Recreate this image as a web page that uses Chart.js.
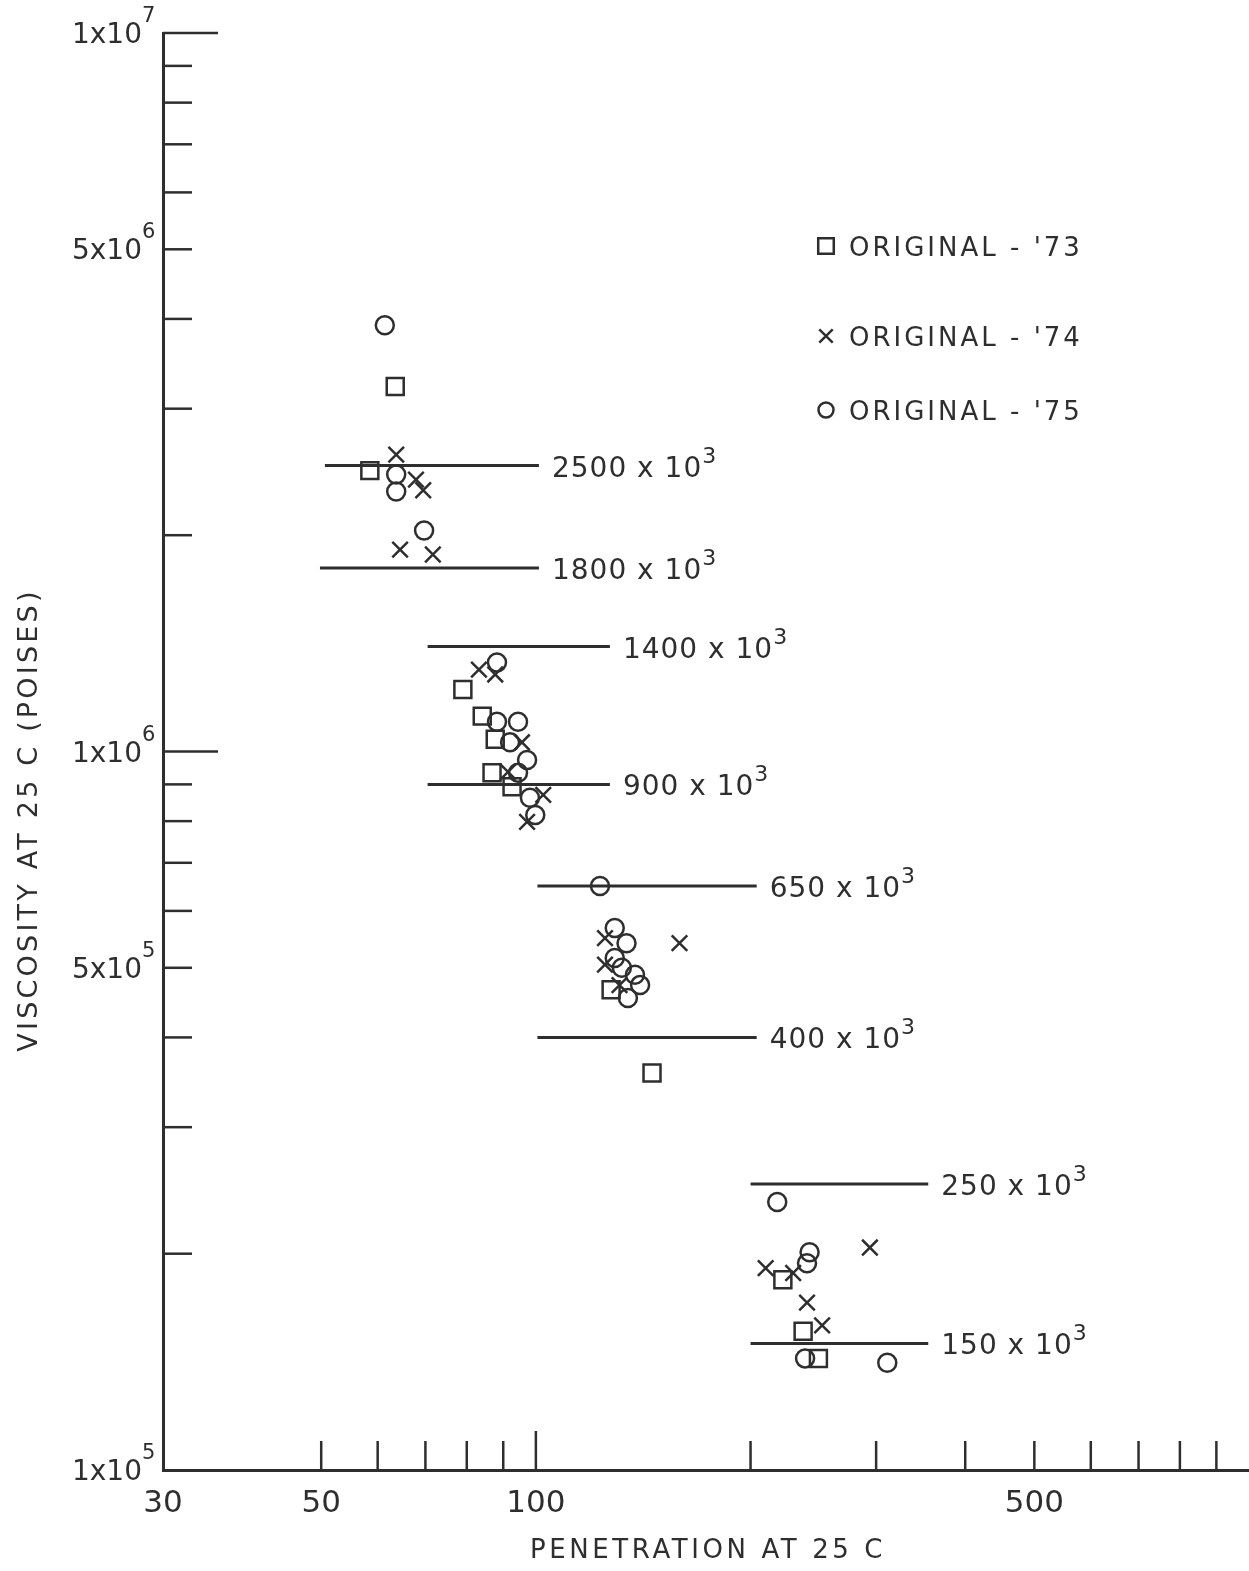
<!DOCTYPE html>
<html>
<head>
<meta charset="utf-8">
<script src="https://cdn.jsdelivr.net/npm/chart.js@4.4.1/dist/chart.umd.min.js"></script>
<style>
  html, body { margin: 0; padding: 0; background: #ffffff; }
  #plot { display: block; }
</style>
</head>
<body>
<canvas id="plot" width="1249" height="1571"></canvas>
<script>
const INK = '#2e2e2e';
const FONT = '"DejaVu Sans", "Liberation Sans", sans-serif';

// Penetration at 25 C (x) and viscosity at 25 C in poises (y), per series
const pen73 = [63.5, 58.5, 79.0, 84.1, 87.7, 86.8, 92.6, 127.5, 145.5, 222, 237, 249];
const vis73 = [3.22e6, 2.46e6, 1.22e6, 1.12e6, 1.04e6, 9.34e5, 8.93e5, 4.66e5, 3.57e5, 1.84e5, 1.56e5, 1.43e5];

const pen74 = [63.7, 67.9, 69.5, 64.5, 71.7, 83.2, 87.7, 95.6, 91.4, 102.4, 97.2, 125, 159, 125, 131, 294, 210, 229.5, 240, 252];
const vis74 = [2.59e6, 2.39e6, 2.31e6, 1.91e6, 1.88e6, 1.30e6, 1.28e6, 1.03e6, 9.37e5, 8.70e5, 7.98e5, 5.50e5, 5.41e5, 5.05e5, 4.73e5, 2.04e5, 1.91e5, 1.88e5, 1.71e5, 1.59e5];

const pen75 = [61.4, 63.7, 63.7, 69.7, 88.2, 88.2, 94.4, 92.0, 97.2, 94.4, 98.1, 99.8, 123, 129, 134, 129, 132, 137.7, 140, 134.6, 218, 242, 240, 238.5, 311];
const vis75 = [3.92e6, 2.43e6, 2.30e6, 2.03e6, 1.33e6, 1.10e6, 1.10e6, 1.03e6, 9.73e5, 9.34e5, 8.62e5, 8.16e5, 6.5e5, 5.68e5, 5.41e5, 5.16e5, 5.0e5, 4.89e5, 4.73e5, 4.54e5, 2.36e5, 2.01e5, 1.94e5, 1.43e5, 1.41e5];

const seriesNames = ["ORIGINAL - '73", "ORIGINAL - '74", "ORIGINAL - '75"];
const seriesStyles = ['rect', 'crossRot', 'circle'];

// Viscosity grade lines (poises) and the penetration span of each
const gradeVisc = [2500e3, 1800e3, 1400e3, 900e3, 650e3, 400e3, 250e3, 150e3];
const gradeText = ['2500', '1800', '1400', '900', '650', '400', '250', '150'];
const gradeFrom = [50.6, 49.8, 70.5, 70.5, 100.5, 100.5, 200, 200];
const gradeTo   = [101, 101, 127, 127, 204, 204, 355, 355];

// Axis labelling
const yLabelVals = [1e5, 5e5, 1e6, 5e6, 1e7];
const yLabelMant = ['1x10', '5x10', '1x10', '5x10', '1x10'];
const yLabelExp  = ['5', '5', '6', '6', '7'];
const yMinorTicks = [2e5, 3e5, 4e5, 5e5, 6e5, 7e5, 8e5, 9e5, 2e6, 3e6, 4e6, 5e6, 6e6, 7e6, 8e6, 9e6];
const yMajorTicks = [1e6, 1e7];
const xLabelVals = [30, 50, 100, 500];
const xLabelText = ['30', '50', '100', '500'];
const xMinorTicks = [50, 60, 70, 80, 90, 200, 300, 400, 500, 600, 700, 800, 900];
const xMajorTicks = [100];

const zip = (xs, ys) => xs.map((x, i) => ({ x: x, y: ys[i] }));

const datasets = [];
gradeVisc.forEach((v, i) => {
  datasets.push({
    type: 'line',
    data: [{ x: gradeFrom[i], y: v }, { x: gradeTo[i], y: v }],
    borderColor: INK,
    borderWidth: 3,
    pointRadius: 0,
    fill: false,
    order: 2
  });
});
const markerRadius = { rect: 12, crossRot: 11, circle: 9 };
[[pen73, vis73], [pen74, vis74], [pen75, vis75]].forEach((s, i) => {
  datasets.push({
    type: 'scatter',
    label: seriesNames[i],
    data: zip(s[0], s[1]),
    pointStyle: seriesStyles[i],
    pointRadius: markerRadius[seriesStyles[i]],
    pointBorderWidth: 2.5,
    pointBorderColor: INK,
    pointBackgroundColor: 'rgba(0,0,0,0)',
    order: 1
  });
});

function marker(ctx, style, x, y, r) {
  ctx.beginPath();
  if (style === 'rect') {
    const h = r * Math.SQRT1_2;
    ctx.rect(x - h, y - h, 2 * h, 2 * h);
  } else if (style === 'circle') {
    ctx.arc(x, y, r, 0, Math.PI * 2);
  } else {
    const h = r * Math.SQRT1_2;
    ctx.moveTo(x - h, y - h); ctx.lineTo(x + h, y + h);
    ctx.moveTo(x - h, y + h); ctx.lineTo(x + h, y - h);
  }
  ctx.stroke();
}

const decorations = {
  id: 'decorations',
  afterDraw(chart) {
    const ctx = chart.ctx;
    const xs = chart.scales.x, ys = chart.scales.y;
    const left = chart.chartArea.left, bottom = chart.chartArea.bottom;
    ctx.save();
    ctx.strokeStyle = INK;
    ctx.fillStyle = INK;
    ctx.lineWidth = 2.5;
    ctx.lineCap = 'butt';

    // tick marks pointing into the plot
    const yTick = (v, len) => {
      const p = ys.getPixelForValue(v);
      ctx.beginPath(); ctx.moveTo(left, p); ctx.lineTo(left + len, p); ctx.stroke();
    };
    yMinorTicks.forEach(v => yTick(v, 29));
    yMajorTicks.forEach(v => yTick(v, 55));
    const xTick = (v, len) => {
      const p = xs.getPixelForValue(v);
      ctx.beginPath(); ctx.moveTo(p, bottom); ctx.lineTo(p, bottom - len); ctx.stroke();
    };
    xMinorTicks.forEach(v => xTick(v, 29));
    xMajorTicks.forEach(v => xTick(v, 39));

    // y tick labels with exponents
    ctx.textBaseline = 'alphabetic';
    yLabelVals.forEach((v, i) => {
      const p = ys.getPixelForValue(v);
      ctx.font = '28px ' + FONT;
      ctx.textAlign = 'right';
      ctx.fillText(yLabelMant[i], left - 21, p + 10);
      ctx.font = '21px ' + FONT;
      ctx.textAlign = 'left';
      ctx.fillText(yLabelExp[i], left - 21, p - 11);
    });

    // x tick labels
    ctx.font = '31px ' + FONT;
    ctx.textAlign = 'center';
    xLabelVals.forEach((v, i) => {
      ctx.fillText(xLabelText[i], xs.getPixelForValue(v), bottom + 42);
    });

    // grade line labels
    gradeVisc.forEach((v, i) => {
      const px = xs.getPixelForValue(gradeTo[i]) + 13;
      const py = ys.getPixelForValue(v);
      ctx.font = '28px ' + FONT;
      ctx.textAlign = 'left';
      ctx.letterSpacing = '1px';
      const main = gradeText[i] + ' x 10';
      ctx.fillText(main, px, py + 11);
      const w = ctx.measureText(main).width;
      ctx.font = '22px ' + FONT;
      ctx.fillText('3', px + w, py - 3);
      ctx.letterSpacing = '0px';
    });

    // legend
    const legendY = [246, 336, 410];
    const legendR = { rect: 11, crossRot: 9.5, circle: 7.5 };
    seriesNames.forEach((name, i) => {
      ctx.lineWidth = 2.5;
      marker(ctx, seriesStyles[i], 826, legendY[i], legendR[seriesStyles[i]]);
      ctx.font = '26px ' + FONT;
      ctx.letterSpacing = '3px';
      ctx.textAlign = 'left';
      ctx.fillText(name, 849, legendY[i] + 10);
      ctx.letterSpacing = '0px';
    });

    // axis titles
    ctx.font = '26px ' + FONT;
    ctx.letterSpacing = '3.6px';
    ctx.textAlign = 'center';
    ctx.fillText('PENETRATION AT 25 C', 708, 1558);
    ctx.save();
    ctx.translate(37, 820);
    ctx.rotate(-Math.PI / 2);
    ctx.font = '27px ' + FONT;
    ctx.letterSpacing = '3.2px';
    ctx.fillText('VISCOSITY AT 25 C (POISES)', 0, 0);
    ctx.restore();
    ctx.restore();
  }
};

new Chart(document.getElementById('plot'), {
  data: { datasets: datasets },
  options: {
    responsive: false,
    devicePixelRatio: 1,
    animation: false,
    events: [],
    layout: { autoPadding: false, padding: { top: 33, right: 0, bottom: 0, left: 0 } },
    plugins: { legend: { display: false }, tooltip: { enabled: false } },
    scales: {
      x: {
        type: 'logarithmic',
        position: 'bottom',
        min: 30,
        max: 1000,
        ticks: { display: false },
        grid: { display: false },
        border: { display: true, color: INK, width: 3 },
        afterFit: s => { s.height = 101; }
      },
      y: {
        type: 'logarithmic',
        position: 'left',
        min: 1e5,
        max: 1e7,
        ticks: { display: false },
        grid: { display: false },
        border: { display: true, color: INK, width: 3 },
        afterFit: s => { s.width = 163; }
      }
    }
  },
  plugins: [decorations]
});
</script>
</body>
</html>
